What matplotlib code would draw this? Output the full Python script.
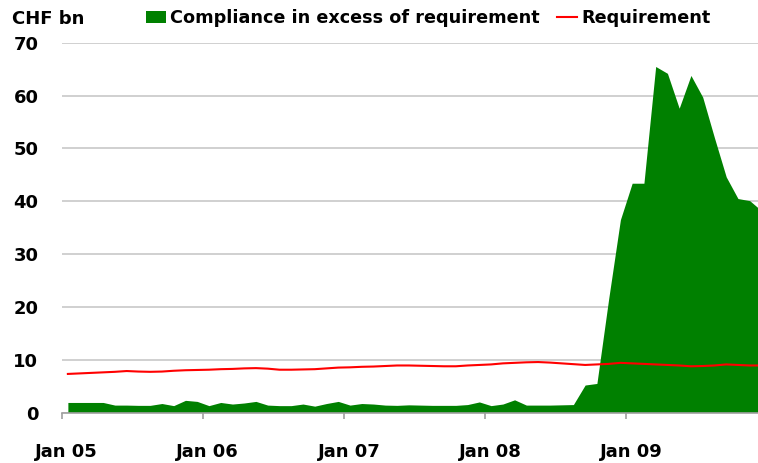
import matplotlib.pyplot as plt
import numpy as np

# monthly data, Jan 2005 .. Dec 2009 (CHF bn)
excess = [1.9, 1.9, 1.9, 1.9, 1.4, 1.4, 1.35, 1.35, 1.7, 1.3,
          2.3, 2.1, 1.3, 1.9, 1.6, 1.8, 2.1, 1.4, 1.3, 1.3,
          1.6, 1.2, 1.7, 2.1, 1.4, 1.7, 1.6, 1.4, 1.35, 1.45,
          1.4, 1.35, 1.35, 1.35, 1.5, 2.0, 1.3, 1.6, 2.4, 1.4,
          1.4, 1.4, 1.45, 1.5, 5.2, 5.5, 21.5, 36.5, 43.4, 43.4,
          65.5, 64.2, 57.6, 63.8, 59.7, 52.0, 44.6, 40.5, 40.1, 38.2]
requirement = [7.3, 7.4, 7.5, 7.6, 7.7, 7.85, 7.75, 7.7, 7.75, 7.9,
               8.0, 8.05, 8.1, 8.2, 8.25, 8.35, 8.4, 8.3, 8.1, 8.1,
               8.15, 8.2, 8.35, 8.5, 8.55, 8.65, 8.7, 8.8, 8.9, 8.9,
               8.85, 8.8, 8.75, 8.75, 8.9, 9.0, 9.1, 9.3, 9.4, 9.5,
               9.55, 9.45, 9.3, 9.15, 9.0, 9.1, 9.2, 9.4, 9.3, 9.2,
               9.1, 9.0, 8.9, 8.75, 8.8, 8.9, 9.1, 9.0, 8.9, 8.9]
year_labels = ['Jan 05', 'Jan 06', 'Jan 07', 'Jan 08', 'Jan 09']

x = np.arange(len(excess)) + 0.5

fig = plt.figure(figsize=(7.58, 4.63), dpi=100)
ax = fig.add_axes([62 / 758, 1 - 412.5 / 463, 1 - 62 / 758, (412.5 - 42.7) / 463])

ax.fill_between(x, 0, excess, color='#008000', lw=0, zorder=2,
                label='Compliance in excess of requirement')
ax.plot(x, requirement, color='#ff0000', lw=1.5, zorder=3, label='Requirement')

ax.set_xlim(0, 696 / 11.756)
ax.set_ylim(0, 70)
ax.set_yticks(range(0, 71, 10))
ax.yaxis.grid(True, color='#c4c4c4', lw=1.1, zorder=0)
ax.set_axisbelow(True)

for s in ['left', 'right', 'top']:
    ax.spines[s].set_visible(False)
ax.spines['bottom'].set_color('#a0a0a0')
ax.spines['bottom'].set_linewidth(1.2)

ax.set_xticks([0, 12, 24, 36, 48])
ax.set_xticklabels([])
ax.tick_params(axis='x', which='major', length=4.5, color='#a0a0a0', width=1.2)
ax.set_xticks([0.4, 12.4, 24.4, 36.4, 48.4], minor=True)
ax.set_xticklabels(year_labels, minor=True, fontsize=13, fontweight='bold')
ax.tick_params(axis='x', which='minor', length=0, pad=22)
ax.tick_params(axis='y', length=0, pad=17, labelsize=13)
for t in ax.get_yticklabels():
    t.set_fontweight('bold')

fig.text(12 / 758, 1 - 19 / 463, 'CHF bn', fontsize=13, fontweight='bold', va='center')
ax.legend(loc='center left', bbox_to_anchor=(146 / 758, 1 - 18 / 463),
          bbox_transform=fig.transFigure, ncol=2, frameon=False,
          prop={'size': 12.7, 'weight': 'bold'}, borderpad=0, borderaxespad=0,
          handlelength=1.15, handletextpad=0.2, columnspacing=1.0)

fig.savefig('out.png', dpi=100)
